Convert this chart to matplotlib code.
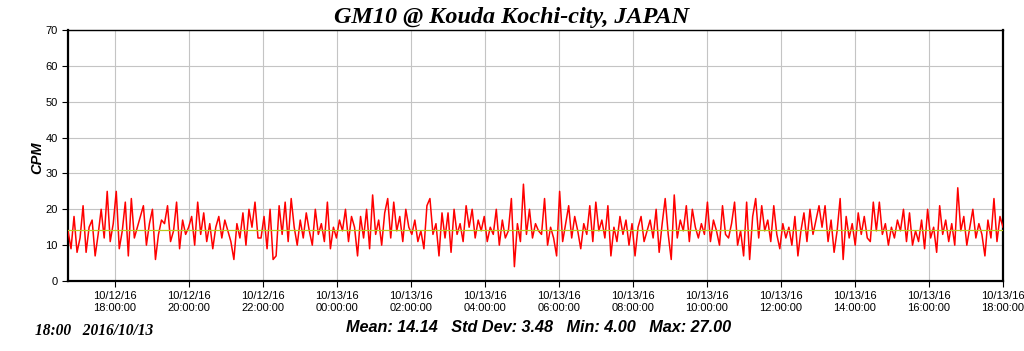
import matplotlib
matplotlib.use('Agg')
import matplotlib.pyplot as plt
import matplotlib.dates as mdates
import pandas as pd

title = 'GM10 @ Kouda Kochi-city, JAPAN'
stamp = '18:00   2016/10/13'
stats = 'Mean: 14.14   Std Dev: 3.48   Min: 4.00   Max: 27.00'
mean_cpm = 14.14

t_start = '2016-10-12 16:44'
t_end = '2016-10-13 18:00'

# counts per minute (roughly one value every ~5 min)
cpm = [14, 9, 18, 8, 12, 21, 8, 15, 17, 7, 13, 20, 12, 25, 11, 16, 25, 9, 14, 22,
       7, 23, 12, 15, 18, 21, 10, 16, 20, 6, 13, 17,
       16, 21, 11, 14, 22, 9, 17, 13, 15, 18, 10, 22, 13, 19, 11, 16, 9, 15, 18, 12,
       17, 14, 11, 6, 16, 12, 19, 10, 20, 15, 22, 12,
       12, 18, 9, 20, 6, 7, 21, 13, 22, 11, 23, 15, 10, 17, 12, 19, 14, 10, 20, 13,
       16, 11, 22, 9, 15, 12, 17, 14, 20, 11, 18,
       15, 7, 18, 12, 20, 9, 24, 13, 17, 10, 19, 23, 12, 22, 14, 18, 11, 20, 15, 13,
       17, 11, 14, 9, 21, 23, 13, 16, 7, 19, 12,
       19, 8, 20, 13, 16, 11, 21, 15, 20, 12, 17, 14, 18, 11, 15, 13, 20, 10, 17, 12,
       14, 23, 4, 16, 11, 27, 13, 20, 12, 16, 14,
       13, 23, 10, 15, 12, 7, 25, 11, 16, 21, 12, 18, 14, 9, 16, 13, 21, 11, 22, 14,
       17, 12, 21, 7, 15, 11, 18, 13, 17, 10, 16,
       7, 15, 18, 11, 14, 17, 12, 20, 8, 16, 23, 13, 6, 24, 12, 17, 14, 21, 11, 20,
       15, 12, 16, 13, 22, 11, 17, 14, 10, 21, 13,
       12, 16, 22, 10, 14, 7, 22, 6, 18, 23, 12, 21, 14, 17, 11, 21, 13, 9, 16, 12,
       15, 10, 18, 7, 14, 19, 11, 20, 13, 17, 21,
       15, 21, 11, 17, 8, 14, 23, 6, 18, 12, 16, 10, 19, 13, 18, 12, 11, 22, 14, 22,
       13, 16, 10, 15, 12, 17, 14, 20, 11, 19, 10,
       14, 11, 17, 9, 20, 12, 15, 8, 21, 13, 17, 11, 16, 10, 26, 14, 18, 10, 15, 20,
       12, 16, 13, 7, 17, 12, 23, 11, 18, 15]

times = pd.date_range(t_start, t_end, periods=len(cpm))

fig = plt.figure(figsize=(10.24, 3.51), dpi=100)
ax = fig.add_axes([0.0664, 0.1994, 0.9131, 0.7151])

ax.plot(times, cpm, color='red', lw=1.1, zorder=3)
ax.axhline(mean_cpm, color='#b8c820', lw=0.9, zorder=4)

ax.set_xlim(pd.Timestamp(t_start), pd.Timestamp(t_end))
ax.set_ylim(0, 70)
ax.set_yticks(range(0, 71, 10))
ax.xaxis.set_major_locator(mdates.HourLocator(byhour=range(0, 24, 2)))
ax.xaxis.set_major_formatter(mdates.DateFormatter('%m/%d/%y\n%H:%M:%S'))
ax.grid(True, color='#c4c4c4', lw=0.8, zorder=0)

ax.tick_params(axis='both', labelsize=8, length=4, width=0.8, direction='out')
for lab in ax.get_xticklabels() + ax.get_yticklabels():
    lab.set_fontfamily('Liberation Sans')

for side in ['left', 'bottom', 'right']:
    ax.spines[side].set_linewidth(1.6)
ax.spines['top'].set_linewidth(1.0)

ax.set_ylabel('CPM', fontsize=10.5, fontweight='bold', fontstyle='italic',
              family='Liberation Sans')
ax.yaxis.set_label_coords(-0.0255, 0.49)

fig.text(0.5, 0.95, title, ha='center', va='center', fontsize=17.4,
         fontweight='bold', fontstyle='italic', family='Liberation Serif')
fig.text(0.034, 0.057, stamp, ha='left', va='center', fontsize=11.2,
         fontweight='bold', fontstyle='italic', family='Liberation Serif')
fig.text(0.526, 0.066, stats, ha='center', va='center', fontsize=11.7,
         fontweight='bold', fontstyle='italic', family='Liberation Sans')

fig.savefig('out.png', dpi=100)
